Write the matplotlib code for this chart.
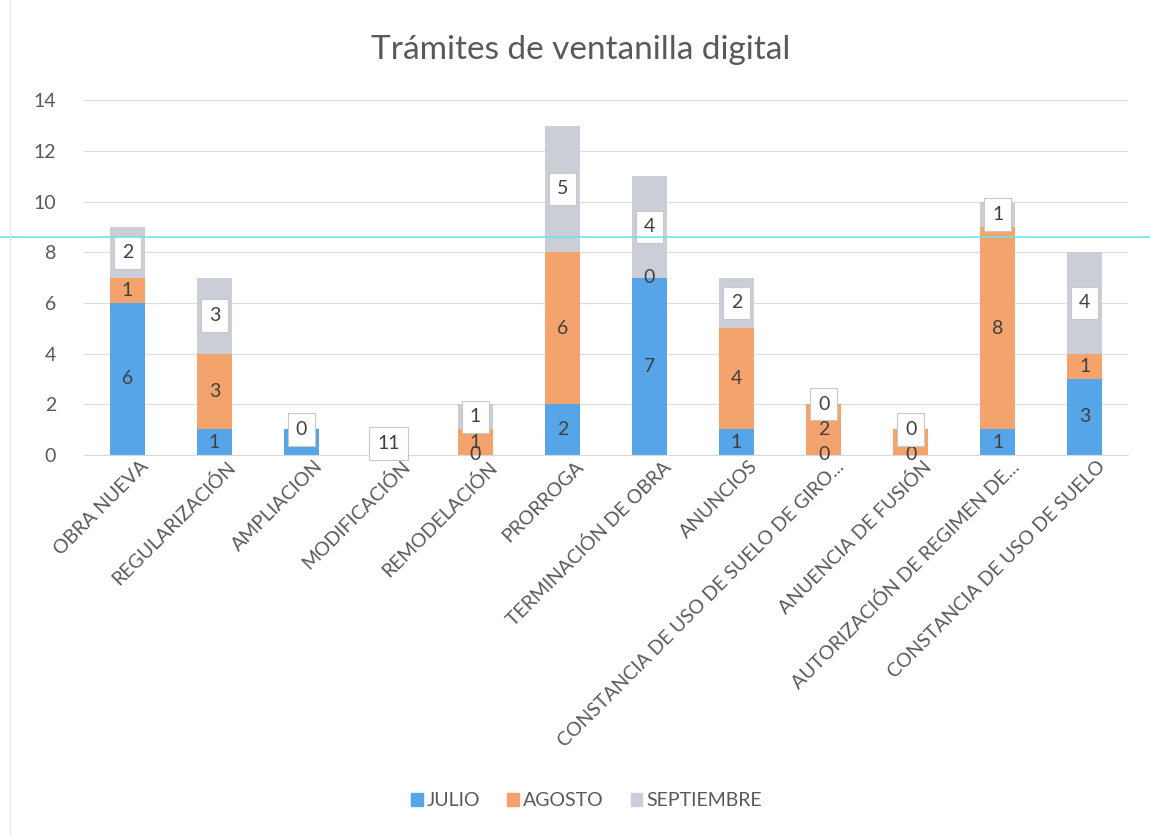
import numpy as np
import matplotlib
matplotlib.use("Agg")
import matplotlib.pyplot as plt
import matplotlib.transforms as mtransforms
from matplotlib.lines import Line2D

plt.rcParams['font.family'] = ['Lato', 'DejaVu Sans']

# ── Datos ─────────────────────────────────────────────────────
categorias = ["OBRA NUEVA", "REGULARIZACIÓN", "AMPLIACION", "MODIFICACIÓN",
              "REMODELACIÓN", "PRORROGA", "TERMINACIÓN DE OBRA", "ANUNCIOS",
              "CONSTANCIA DE USO DE SUELO DE GIRO...", "ANUENCIA DE FUSIÓN",
              "AUTORIZACIÓN DE REGIMEN DE...", "CONSTANCIA DE USO DE SUELO"]
julio = [6, 1, 1, 0, 0, 2, 7, 1, 0, 0, 1, 3]
agosto = [1, 3, 0, 0, 1, 6, 0, 4, 2, 1, 8, 1]
septiembre = [2, 3, 0, 0, 1, 5, 4, 2, 0, 0, 1, 4]
# etiqueta tal como aparece en el original (MODIFICACIÓN muestra "11")
etiqueta_sep = {3: "11"}
# etiquetas tapadas por el recuadro de septiembre en el original
ocultas_jul = {2, 3}
ocultas_ago = {2, 3, 9}

C_JUL = "#55a5e8"
C_AGO = "#f5a36c"
C_SEP = "#cbced6"
C_TXT = "#404040"
C_AX = "#595959"

fig = plt.figure(figsize=(11.5, 8.36), dpi=100)
ax = fig.add_axes([0.073, 0.456, 0.908, 0.424])

x = np.arange(len(categorias))
w = 0.41
j = np.array(julio)
a = np.array(agosto)
s = np.array(septiembre)

ax.bar(x, j, w, color=C_JUL, zorder=2)
ax.bar(x, a, w, bottom=j, color=C_AGO, zorder=2)
ax.bar(x, s, w, bottom=j + a, color=C_SEP, zorder=2)

# etiquetas de datos
for i in x:
    if i not in ocultas_jul:
        ax.text(i, j[i] / 2, str(j[i]), ha="center", va="center",
                fontsize=14, color=C_TXT, zorder=3)
    if i not in ocultas_ago:
        ax.text(i, j[i] + a[i] / 2, str(a[i]), ha="center", va="center",
                fontsize=14, color=C_TXT, zorder=3)
    txt = etiqueta_sep.get(i, str(s[i]))
    y = j[i] + a[i] + s[i] / 2
    if i == 3:
        y = 0.45
    ax.text(i, y, txt, ha="center", va="center", fontsize=14, color=C_TXT,
            zorder=4,
            bbox=dict(boxstyle="square,pad=0.4", fc="white", ec="#c8c8c8", lw=0.8))

ax.set_xlim(-0.5, len(categorias) - 0.5)
ax.set_ylim(0, 14)
ax.set_yticks(range(0, 15, 2))
ax.tick_params(axis="y", length=0, labelsize=14, labelcolor=C_AX, pad=20)
ax.tick_params(axis="x", length=0, labelsize=14, labelcolor=C_AX, pad=2)
ax.set_xticks(x)
ax.set_xticklabels(categorias, rotation=45, ha="right", rotation_mode="anchor")
desplaza = mtransforms.ScaledTranslation(12 / 100, 0, fig.dpi_scale_trans)
for lab in ax.get_xticklabels():
    lab.set_transform(lab.get_transform() + desplaza)
ax.grid(axis="y", color="#dcdcdc", lw=0.8, zorder=0)
for sp in ["top", "right", "left"]:
    ax.spines[sp].set_visible(False)
ax.spines["bottom"].set_color("#d9d9d9")

fig.suptitle("Trámites de ventanilla digital", x=0.505, y=0.958,
             fontsize=24, color=C_AX)

handles = [plt.Rectangle((0, 0), 1, 1, color=c) for c in (C_JUL, C_AGO, C_SEP)]
fig.legend(handles, ["JULIO", "AGOSTO", "SEPTIEMBRE"], loc="center",
           bbox_to_anchor=(0.51, 0.042), ncol=3, frameon=False, fontsize=14,
           handlelength=0.6, handleheight=0.6, handletextpad=0.2,
           columnspacing=1.4, labelcolor=C_AX)

# línea cian del escaneo y borde de página
fig.add_artist(Line2D([0, 1], [0.717, 0.717], color="#6fe3ee", lw=1.2))
fig.add_artist(Line2D([0.009, 0.009], [0.0, 1.0], color="#e6e6e6", lw=0.8))

fig.savefig("out.png", dpi=100, facecolor="white")
